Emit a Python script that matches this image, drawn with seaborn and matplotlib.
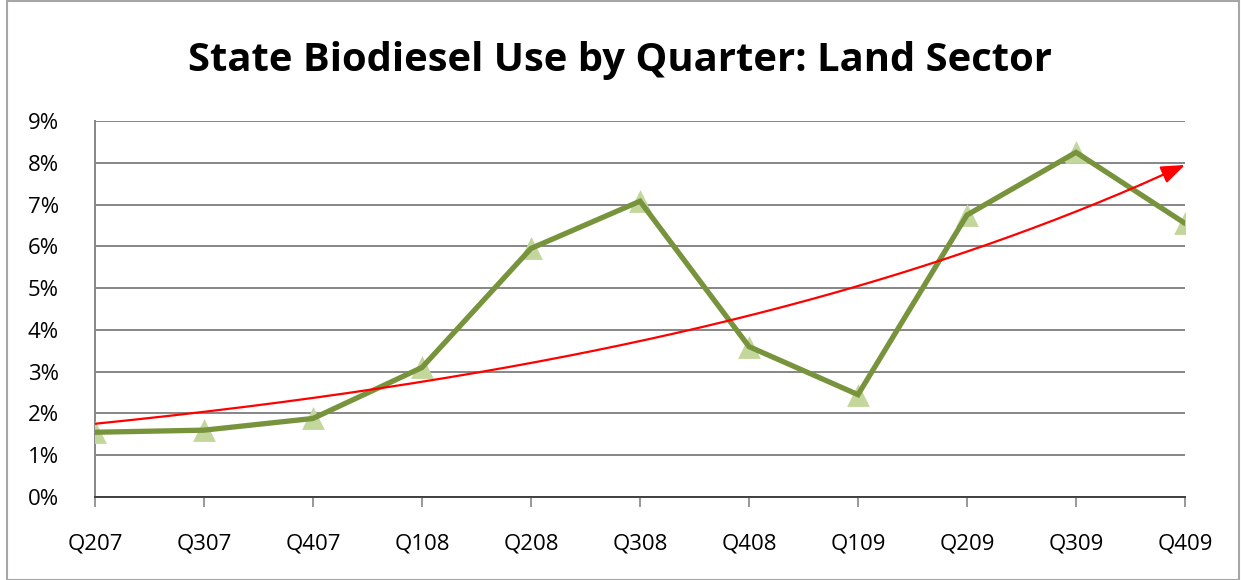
import numpy as np
import pandas as pd
import matplotlib
matplotlib.use("Agg")
import matplotlib.pyplot as plt
import seaborn as sns
from matplotlib.patches import Rectangle

quarters = ["Q207", "Q307", "Q407", "Q108", "Q208", "Q308", "Q408", "Q109", "Q209", "Q309", "Q409"]
use_pct = [1.55, 1.6, 1.88, 3.1, 5.95, 7.08, 3.6, 2.45, 6.75, 8.25, 6.55]
title = "State Biodiesel Use by Quarter: Land Sector"
y_ticks = [0, 1, 2, 3, 4, 5, 6, 7, 8, 9]

sns.set_theme(style="white")
plt.rcParams["font.family"] = ["Open Sans", "DejaVu Sans"]

df = pd.DataFrame({"idx": np.arange(len(quarters)), "quarter": quarters, "val": use_pct})

fig = plt.figure(figsize=(12.41, 5.80), dpi=100)
ax = fig.add_axes([95/1241, 83/580, (1185-95)/1241, (497-121)/580])

ax.set_ylim(0, 9)
ax.set_xlim(0, len(quarters) - 1)
ax.set_yticks(y_ticks)
ax.set_yticklabels([f"{t}%" for t in y_ticks])
ax.yaxis.grid(True, color="#868686", linewidth=1.4)
ax.xaxis.grid(False)
ax.set_axisbelow(True)

# markers (behind line)
ax.scatter(df["idx"], df["val"], marker="^", s=270, color="#C3D69B", zorder=3, linewidths=0)
sns.lineplot(data=df, x="idx", y="val", color="#77933C", linewidth=3.8, ax=ax, zorder=4,
             solid_capstyle="round", solid_joinstyle="miter")

# exponential trend (least squares fit on log values)
b, a = np.polyfit(df["idx"], np.log(df["val"]), 1)
xs = np.linspace(0, len(quarters) - 1, 200)
ys = np.exp(a + b * xs)
ax.plot(xs[:-8], ys[:-8], color="#FF0000", linewidth=1.6, zorder=5)
ax.annotate("", xy=(xs[-1], ys[-1]), xytext=(xs[-9], ys[-9]),
            arrowprops=dict(arrowstyle="-|>,head_length=1.2,head_width=0.45", color="#FF0000",
                            linewidth=1.6, shrinkA=0, shrinkB=0), zorder=6)

ax.set_xticks(df["idx"])
ax.set_xticklabels(quarters)
ax.set_xlabel("")
ax.set_ylabel("")
ax.tick_params(axis="x", length=7, width=1.2, color="#868686", direction="out", pad=19, labelsize=16, labelcolor="black", bottom=True)
ax.tick_params(axis="y", length=0, pad=26, labelsize=16, labelcolor="black")

for s in ["top", "right"]:
    ax.spines[s].set_visible(False)
ax.spines["left"].set_color("#868686")
ax.spines["left"].set_linewidth(1.4)
ax.spines["bottom"].set_color("#404040")
ax.spines["bottom"].set_linewidth(1.4)

fig.text(0.5, 1 - 60/580, title, ha="center", va="center", fontsize=28.8, fontweight="bold", color="black")

fig.patches.append(Rectangle((7/1241, 0), 1232/1241, 0.998, transform=fig.transFigure,
                             fill=False, edgecolor="#A6A6A6", linewidth=1.5))

fig.savefig("out.png", dpi=100)
